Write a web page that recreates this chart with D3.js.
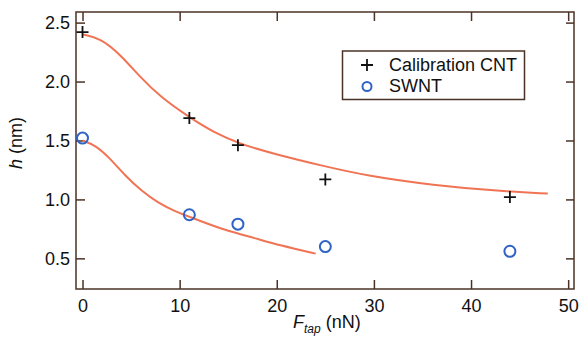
<!DOCTYPE html>
<html>
<head>
<meta charset="utf-8">
<script src="https://cdn.jsdelivr.net/npm/d3@7"></script>
<style>
  body { margin: 0; background: #fff; }
  svg { font-family: "Liberation Sans", Arial, sans-serif; }
</style>
</head>
<body>
<div id="chart"></div>
<script>
// measured points
var forces = [0, 11, 16, 25, 44];
var cntHeights = [2.42, 1.69, 1.46, 1.17, 1.02];
var swntHeights = [1.52, 0.87, 0.79, 0.60, 0.56];

// fitted curves
var cntFitX = [0, 1.8, 3.9, 5.9, 8, 11.1, 13.5, 16.2, 20, 24.7, 29.3, 36.1, 43, 47.9];
var cntFitY = [2.40, 2.37, 2.23, 2.04, 1.87, 1.69, 1.57, 1.47, 1.38, 1.285, 1.20, 1.12, 1.07, 1.05];
var swntFitX = [0, 1.3, 2.7, 4.4, 6.1, 7.8, 9.5, 11.1, 13, 14.7, 17.8, 20.3, 24];
var swntFitY = [1.50, 1.46, 1.36, 1.20, 1.07, 0.97, 0.90, 0.85, 0.79, 0.74, 0.67, 0.61, 0.54];

var xTicks = [0, 10, 20, 30, 40, 50];
var yTicks = [0.5, 1.0, 1.5, 2.0, 2.5];
var legendLabels = ["Calibration CNT", "SWNT"];

var width = 581, height = 343;
// plot frame edges (window.top is reserved, so use own names)
var plotL = 76, plotR = 574, plotT = 12, plotB = 289;
var frameColor = "#4b3226";
var fitColor = "#f07454";
var circleColor = "#2f63c4";

var x = d3.scaleLinear().domain([-0.67, 50.6]).range([plotL, plotR]);
var y = d3.scaleLinear().domain([0.24, 2.59]).range([plotB, plotT]);

var svg = d3.select("#chart")
  .append("svg")
  .attr("width", width)
  .attr("height", height);

// axes, ticks pointing inward
function styleAxis(g) {
  g.select(".domain").remove();
  g.selectAll(".tick line").attr("stroke", frameColor).attr("stroke-width", 1.5);
  g.selectAll(".tick text").attr("fill", "#111").style("font-size", "18px");
}

svg.append("g")
  .attr("transform", "translate(0," + plotB + ")")
  .call(d3.axisBottom(x).tickValues(xTicks).tickSize(-9).tickPadding(10).tickFormat(d3.format("d")))
  .call(styleAxis);

svg.append("g")
  .attr("transform", "translate(" + plotL + ",0)")
  .call(d3.axisLeft(y).tickValues(yTicks).tickSize(-9).tickPadding(6).tickFormat(d3.format(".1f")))
  .call(styleAxis);

svg.append("g")
  .attr("transform", "translate(0," + plotT + ")")
  .call(d3.axisTop(x).tickValues(xTicks).tickSize(-9).tickFormat(""))
  .call(styleAxis);

svg.append("g")
  .attr("transform", "translate(" + plotR + ",0)")
  .call(d3.axisRight(y).tickValues(yTicks).tickSize(-8).tickFormat(""))
  .call(styleAxis);

// frame
svg.append("rect")
  .attr("x", plotL)
  .attr("y", plotT)
  .attr("width", plotR - plotL)
  .attr("height", plotB - plotT)
  .attr("fill", "none")
  .attr("stroke", frameColor)
  .attr("stroke-width", 1.5);

// fit lines
var line = d3.line()
  .x(function (d) { return x(d[0]); })
  .y(function (d) { return y(d[1]); })
  .curve(d3.curveBasis);

[[cntFitX, cntFitY], [swntFitX, swntFitY]].forEach(function (fit) {
  svg.append("path")
    .datum(d3.zip(fit[0], fit[1]))
    .attr("d", line)
    .attr("fill", "none")
    .attr("stroke", fitColor)
    .attr("stroke-width", 2);
});

// markers
function plus(g, cx, cy) {
  g.append("path")
    .attr("d", "M" + (cx - 6) + "," + cy + "H" + (cx + 6) + "M" + cx + "," + (cy - 6) + "V" + (cy + 6))
    .attr("stroke", "#111")
    .attr("stroke-width", 1.8);
}

var marks = svg.append("g");
forces.forEach(function (f, i) {
  plus(marks, x(f), y(cntHeights[i]));
});

marks.selectAll("circle")
  .data(d3.zip(forces, swntHeights))
  .enter()
  .append("circle")
  .attr("cx", function (d) { return x(d[0]); })
  .attr("cy", function (d) { return y(d[1]); })
  .attr("r", 5.5)
  .attr("fill", "none")
  .attr("stroke", circleColor)
  .attr("stroke-width", 2);

// legend
var legend = svg.append("g");
legend.append("rect")
  .attr("x", 342.5)
  .attr("y", 51)
  .attr("width", 182)
  .attr("height", 48.5)
  .attr("fill", "#fff")
  .attr("stroke", frameColor)
  .attr("stroke-width", 1.5);

plus(legend, 367, 65);
legend.append("circle")
  .attr("cx", 367)
  .attr("cy", 86.5)
  .attr("r", 4.5)
  .attr("fill", "none")
  .attr("stroke", circleColor)
  .attr("stroke-width", 2);

legend.selectAll("text")
  .data(legendLabels)
  .enter()
  .append("text")
  .attr("x", 389)
  .attr("y", function (d, i) { return 71 + i * 20.5; })
  .style("font-size", "18px")
  .attr("fill", "#111")
  .text(function (d) { return d; });

// axis titles
var yTitle = svg.append("text")
  .attr("transform", "translate(22,143) rotate(-90)")
  .attr("text-anchor", "middle")
  .style("font-size", "18px")
  .attr("fill", "#111");
yTitle.append("tspan").style("font-style", "italic").text("h");
yTitle.append("tspan").text(" (nm)");

var xTitle = svg.append("text")
  .attr("x", 293)
  .attr("y", 328)
  .style("font-size", "18px")
  .attr("fill", "#111");
xTitle.append("tspan").style("font-style", "italic").text("F");
xTitle.append("tspan").style("font-style", "italic").style("font-size", "12px").attr("dy", 5).text("tap");
xTitle.append("tspan").attr("dy", -5).text(" (nN)");
</script>
</body>
</html>
